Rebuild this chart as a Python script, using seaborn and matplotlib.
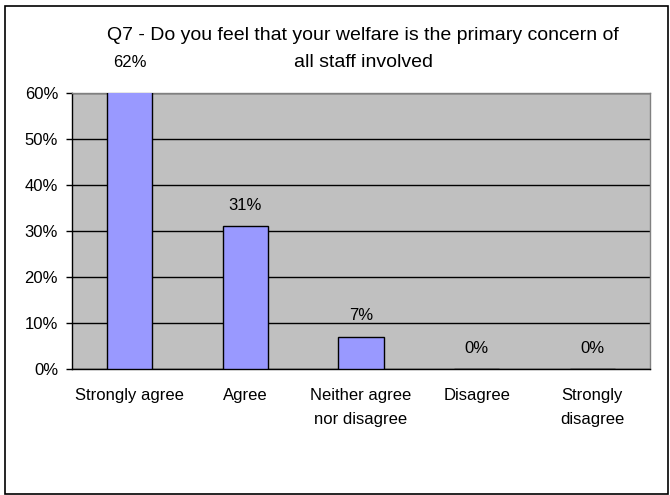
import matplotlib
matplotlib.use("Agg")
import matplotlib.pyplot as plt
import matplotlib.patches as mpatches
from matplotlib.ticker import FixedLocator, PercentFormatter
import seaborn as sns
import pandas as pd

# Survey responses
categories = ["Strongly agree", "Agree", "Neither agree\nnor disagree", "Disagree", "Strongly\ndisagree"]
shares = [0.62, 0.31, 0.07, 0.0, 0.0]
value_labels = ["62%", "31%", "7%", "0%", "0%"]
y_ticks = [0.0, 0.1, 0.2, 0.3, 0.4, 0.5, 0.6]

df = pd.DataFrame({"response": categories, "share": shares})

sns.set_theme(style="white")
plt.rcParams["font.family"] = ["Liberation Sans", "DejaVu Sans"]

W, H = 670, 495
fig = plt.figure(figsize=(W / 100, H / 100), dpi=100)
fig.patch.set_facecolor("white")

left, right, top, bottom = 72, 650, 93, 369
ax = fig.add_axes([left / W, 1 - bottom / H, (right - left) / W, (bottom - top) / H])
ax.set_facecolor("#C0C0C0")

sns.barplot(data=df, x="response", y="share", ax=ax, color="#9999FF",
            saturation=1, width=0.39, edgecolor="black", linewidth=1, zorder=3)

ax.set_xlim(-0.5, len(categories) - 0.5)
ax.set_ylim(0, 0.6)
ax.yaxis.set_major_locator(FixedLocator(y_ticks))
ax.yaxis.set_major_formatter(PercentFormatter(xmax=1, decimals=0))
ax.grid(axis="y", color="black", linewidth=1, zorder=1)
ax.set_axisbelow(True)

ax.set_xlabel("")
ax.set_ylabel("")

# category labels centred, ticks drawn at category boundaries
ax.tick_params(axis="x", which="major", length=0, pad=13.5, labelsize=12, colors="black")
ax.set_xticks(range(len(categories)))
ax.set_xticklabels(categories, linespacing=1.75)
ax.set_xticks([i - 0.5 for i in range(len(categories) + 1)], minor=True)
ax.tick_params(axis="x", which="minor", length=4, width=1, color="black", direction="out")
ax.tick_params(axis="y", which="major", length=4, width=1, color="black",
               direction="out", pad=6, labelsize=12, labelcolor="black", left=True)

for side in ["top", "right"]:
    ax.spines[side].set_color("#808080")
    ax.spines[side].set_linewidth(1)
for side in ["left", "bottom"]:
    ax.spines[side].set_color("black")
    ax.spines[side].set_linewidth(1)

# value labels above each bar
for i, (v, lab) in enumerate(zip(shares, value_labels)):
    ax.annotate(lab, xy=(i, v), xytext=(0, 15), textcoords="offset points",
                ha="center", va="center", fontsize=12, color="black",
                annotation_clip=False, zorder=5)

fig.text(363 / W, 1 - 35 / H,
         "Q7 - Do you feel that your welfare is the primary concern of",
         ha="center", va="center", fontsize=14, color="black")
fig.text(363 / W, 1 - 63 / H, "all staff involved",
         ha="center", va="center", fontsize=14, color="black")

# outer chart frame
fig.patches.append(mpatches.Rectangle((5 / W, 1 - 494 / H), 663 / W, 488 / H,
                                      transform=fig.transFigure, fill=False,
                                      edgecolor="black", linewidth=1.2))

fig.savefig("out.png", dpi=100)
